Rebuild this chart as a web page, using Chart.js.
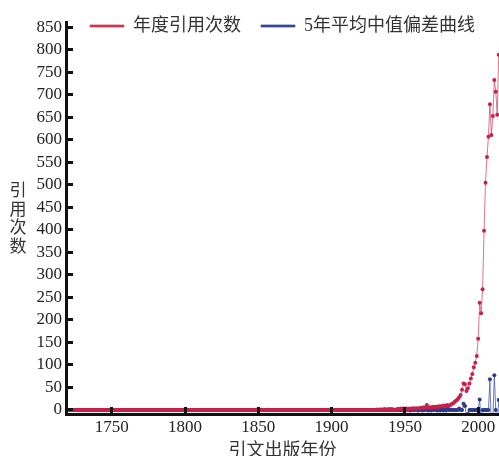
<!DOCTYPE html>
<html>
<head>
<meta charset="utf-8">
<script src="https://cdn.jsdelivr.net/npm/chart.js@4.4.1/dist/chart.umd.min.js"></script>
<style>
  body { margin: 0; background: #fff; }
  #wrap { width: 499px; height: 456px; }
</style>
</head>
<body>
<div id="wrap"><canvas id="cites"></canvas></div>
<script>
// 引文出版年份
const years = [
  1719,
  1720, 1721, 1722, 1723, 1724, 1725, 1726, 1727, 1728, 1729,
  1730, 1731, 1732, 1733, 1734, 1735, 1736, 1737, 1738, 1739,
  1740, 1741, 1742, 1743, 1744, 1745, 1746, 1747, 1748, 1749,
  1750, 1751, 1752, 1753, 1754, 1755, 1756, 1757, 1758, 1759,
  1760, 1761, 1762, 1763, 1764, 1765, 1766, 1767, 1768, 1769,
  1770, 1771, 1772, 1773, 1774, 1775, 1776, 1777, 1778, 1779,
  1780, 1781, 1782, 1783, 1784, 1785, 1786, 1787, 1788, 1789,
  1790, 1791, 1792, 1793, 1794, 1795, 1796, 1797, 1798, 1799,
  1800, 1801, 1802, 1803, 1804, 1805, 1806, 1807, 1808, 1809,
  1810, 1811, 1812, 1813, 1814, 1815, 1816, 1817, 1818, 1819,
  1820, 1821, 1822, 1823, 1824, 1825, 1826, 1827, 1828, 1829,
  1830, 1831, 1832, 1833, 1834, 1835, 1836, 1837, 1838, 1839,
  1840, 1841, 1842, 1843, 1844, 1845, 1846, 1847, 1848, 1849,
  1850, 1851, 1852, 1853, 1854, 1855, 1856, 1857, 1858, 1859,
  1860, 1861, 1862, 1863, 1864, 1865, 1866, 1867, 1868, 1869,
  1870, 1871, 1872, 1873, 1874, 1875, 1876, 1877, 1878, 1879,
  1880, 1881, 1882, 1883, 1884, 1885, 1886, 1887, 1888, 1889,
  1890, 1891, 1892, 1893, 1894, 1895, 1896, 1897, 1898, 1899,
  1900, 1901, 1902, 1903, 1904, 1905, 1906, 1907, 1908, 1909,
  1910, 1911, 1912, 1913, 1914, 1915, 1916, 1917, 1918, 1919,
  1920, 1921, 1922, 1923, 1924, 1925, 1926, 1927, 1928, 1929,
  1930, 1931, 1932, 1933, 1934, 1935, 1936, 1937, 1938, 1939,
  1940, 1941, 1942, 1943, 1944, 1945, 1946, 1947, 1948, 1949,
  1950, 1951, 1952, 1953, 1954, 1955, 1956, 1957, 1958, 1959,
  1960, 1961, 1962, 1963, 1964, 1965, 1966, 1967, 1968, 1969,
  1970, 1971, 1972, 1973, 1974, 1975, 1976, 1977, 1978, 1979,
  1980, 1981, 1982, 1983, 1984, 1985, 1986, 1987, 1988, 1989,
  1990, 1991, 1992, 1993, 1994, 1995, 1996, 1997, 1998, 1999,
  2000, 2001, 2002, 2003, 2004, 2005, 2006, 2007, 2008, 2009,
  2010, 2011, 2012, 2013, 2014
];

// 年度引用次数
const annualCites = [
  0,
  0, 0, 0, 0, 0, 0, 0, 0, 0, 0,   // 1720s
  0, 0, 0, 0, 0, 0, 0, 0, 0, 0,
  0, 0, 0, 0, 0, 0, 0, 0, 0, 0,
  0, 0, 0, 0, 0, 0, 0, 0, 0, 0,   // 1750s
  0, 0, 0, 0, 0, 0, 0, 0, 0, 0,
  0, 0, 0, 0, 0, 0, 0, 0, 0, 0,
  0, 0, 0, 0, 0, 0, 0, 0, 0, 0,
  0, 0, 0, 0, 0, 0, 0, 0, 0, 0,
  0, 0, 0, 0, 0, 0, 0, 0, 0, 0,   // 1800s
  0, 0, 0, 0, 0, 0, 0, 0, 0, 0,
  0, 0, 0, 0, 0, 0, 0, 0, 0, 0,
  0, 0, 0, 0, 0, 0, 0, 0, 0, 0,
  0, 0, 0, 0, 0, 0, 0, 0, 0, 0,
  0, 0, 0, 0, 0, 0, 0, 0, 0, 0,   // 1850s
  0, 0, 0, 0, 0, 0, 0, 0, 0, 0,
  0, 0, 0, 0, 0, 0, 0, 0, 0, 0,
  0, 0, 0, 0, 0, 0, 0, 0, 0, 0,
  0, 0, 0, 0, 0, 0, 0, 0, 0, 0,
  0, 0, 0, 0, 0, 0, 0, 0, 0, 0,   // 1900s
  0, 0, 0, 0, 0, 0, 0, 0, 0, 0,
  0, 0, 0, 0, 0, 0, 0, 0, 0, 0,
  0, 1, 0, 1, 1, 0, 2, 1, 1, 2,   // 1930s
  1, 2, 1, 0, 1, 2, 2, 3, 2, 3,
  2, 3, 2, 3, 2, 4, 3, 3, 4, 3,   // 1950s
  4, 5, 4, 6, 5, 11, 5, 6, 5, 7,
  6, 7, 6, 8, 7, 9, 8, 10, 9, 11,
  9, 11, 13, 15, 18, 21, 24, 28, 33, 45,   // 1980s
  59, 57, 42, 48, 59, 70, 80, 95, 105, 120,
  158, 238, 215, 268, 398, 505, 562, 607, 679, 611,   // 2000s
  653, 733, 707, 656, 789
];

// 5年平均中值偏差
const medianDev = [
  0,
  0, 0, 0, 0, 0, 0, 0, 0, 0, 0,
  0, 0, 0, 0, 0, 0, 0, 0, 0, 0,
  0, 0, 0, 0, 0, 0, 0, 0, 0, 0,
  0, 0, 0, 0, 0, 0, 0, 0, 0, 0,
  0, 0, 0, 0, 0, 0, 0, 0, 0, 0,
  0, 0, 0, 0, 0, 0, 0, 0, 0, 0,
  0, 0, 0, 0, 0, 0, 0, 0, 0, 0,
  0, 0, 0, 0, 0, 0, 0, 0, 0, 0,
  0, 0, 0, 0, 0, 0, 0, 0, 0, 0,
  0, 0, 0, 0, 0, 0, 0, 0, 0, 0,
  0, 0, 0, 0, 0, 0, 0, 0, 0, 0,
  0, 0, 0, 0, 0, 0, 0, 0, 0, 0,
  0, 0, 0, 0, 0, 0, 0, 0, 0, 0,
  0, 0, 0, 0, 0, 0, 0, 0, 0, 0,
  0, 0, 0, 0, 0, 0, 0, 0, 0, 0,
  0, 0, 0, 0, 0, 0, 0, 0, 0, 0,
  0, 0, 0, 0, 0, 0, 0, 0, 0, 0,
  0, 0, 0, 0, 0, 0, 0, 0, 0, 0,
  0, 0, 0, 0, 0, 0, 0, 0, 0, 0,
  0, 0, 0, 0, 0, 0, 0, 0, 0, 0,
  0, 0, 0, 0, 0, 0, 0, 0, 0, 0,
  0, 0, 0, 0, 0, 0, 0, 0, 0, 0,
  0, 0, 0, 0, 0, 0, 0, 0, 0, 0,
  0, 1, 0, 0, -1, 1, 0, 0, 1, -1,   // 1950s
  0, 1, -1, 0, 0, 6, -1, 0, -1, 1,
  0, 0, -1, 1, -1, 1, -1, 1, -1, 3,
  0, 0, 0, 0, 0, 0, 0, 3, 0, 0,
  14, 9, -15, -9, 0, 0, 0, 0, 0, 0,
  0, 23, -23, 0, 0, 0, 0, 0, 68, -42,
  -26, 77, 0, -40, 22
];

const xTicks = [1750, 1800, 1850, 1900, 1950, 2000];
const yTicks = [0, 50, 100, 150, 200, 250, 300, 350, 400, 450, 500, 550, 600, 650, 700, 750, 800, 850];
const xTitle = '引文出版年份';
const yTitle = '引用次数';

const serif = "'Liberation Serif', 'Noto Sans CJK SC', serif";

// 图例只占 1px 高度，布局后再移回顶部；纵轴标题竖排
const extras = {
  id: 'extras',
  afterLayout(chart) {
    const lg = chart.legend;
    const pad = lg.options.labels.padding;
    lg.top = 26 - 9 - pad;
    lg.bottom = lg.top + 18 + 2 * pad + 10;
    lg.height = lg.bottom - lg.top;
  },
  afterDraw(chart) {
    const ctx = chart.ctx;
    ctx.save();
    ctx.font = "17px 'Noto Sans CJK SC'";
    ctx.fillStyle = '#333';
    ctx.textAlign = 'center';
    ctx.textBaseline = 'middle';
    [...yTitle].forEach((ch, i) => ctx.fillText(ch, 18, 190 + i * 18.5));
    ctx.restore();
  }
};

const axisStyle = {
  grid: { drawOnChartArea: false, color: '#111', lineWidth: 3, tickLength: -7, z: 1 },
  border: { display: true, color: '#111', width: 3, z: 1 }
};

const ctx = document.getElementById('cites');
const chart = new Chart(ctx, {
  type: 'line',
  data: {
    datasets: [{
      label: '年度引用次数',
      data: years.map((yr, i) => ({ x: yr, y: annualCites[i] })),
      borderColor: 'rgba(214,70,100,0.75)',
      backgroundColor: '#d2283f',
      borderWidth: 1,
      pointRadius: 2,
      pointHoverRadius: 2,
      pointBorderWidth: 0,
      pointBackgroundColor: '#c9204a',
      tension: 0
    },
    {
      label: '5年平均中值偏差曲线',
      data: years.map((yr, i) => ({ x: yr, y: medianDev[i] })),
      borderColor: 'rgba(70,90,175,0.8)',
      backgroundColor: '#2b3a86',
      borderWidth: 1,
      pointRadius: 2,
      pointHoverRadius: 2,
      pointBorderWidth: 0,
      pointBackgroundColor: '#2d3c8a',
      tension: 0
    }]
  },
  options: {
    responsive: true,
    maintainAspectRatio: false,
    animation: false,
    layout: { padding: { left: 36, right: 0, top: 21, bottom: -6 }, autoPadding: false },
    plugins: {
      legend: {
        position: 'top',
        fullSize: false,
        maxHeight: 1,
        labels: {
          boxWidth: 34,
          boxHeight: 2,
          padding: 20,
          color: '#333',
          font: { size: 18, family: serif }
        }
      },
      tooltip: { enabled: false }
    },
    scales: {
      x: {
        type: 'linear',
        min: 1718.8,
        max: 2014.2,
        afterBuildTicks: axis => { axis.ticks = xTicks.map(v => ({ value: v })); },
        afterFit: axis => { axis.height = 48; axis.paddingLeft = 0; axis.paddingRight = 0; },
        ticks: { color: '#222', padding: 10, autoSkip: false, maxRotation: 0, font: { size: 17, family: serif }, callback: v => String(v) },
        title: { display: true, text: xTitle, color: '#333', padding: { top: 0, bottom: 0 }, font: { size: 18, family: serif } },
        ...axisStyle
      },
      y: {
        min: -9,
        max: 862,
        afterBuildTicks: axis => { axis.ticks = yTicks.map(v => ({ value: v })); },
        afterFit: axis => { axis.width = 30; axis.paddingTop = 0; axis.paddingBottom = 0; },
        ticks: { color: '#222', padding: 11, autoSkip: false, font: { size: 17, family: serif }, callback: v => String(v) },
        ...axisStyle
      }
    }
  },
  plugins: [extras]
});
</script>
</body>
</html>
